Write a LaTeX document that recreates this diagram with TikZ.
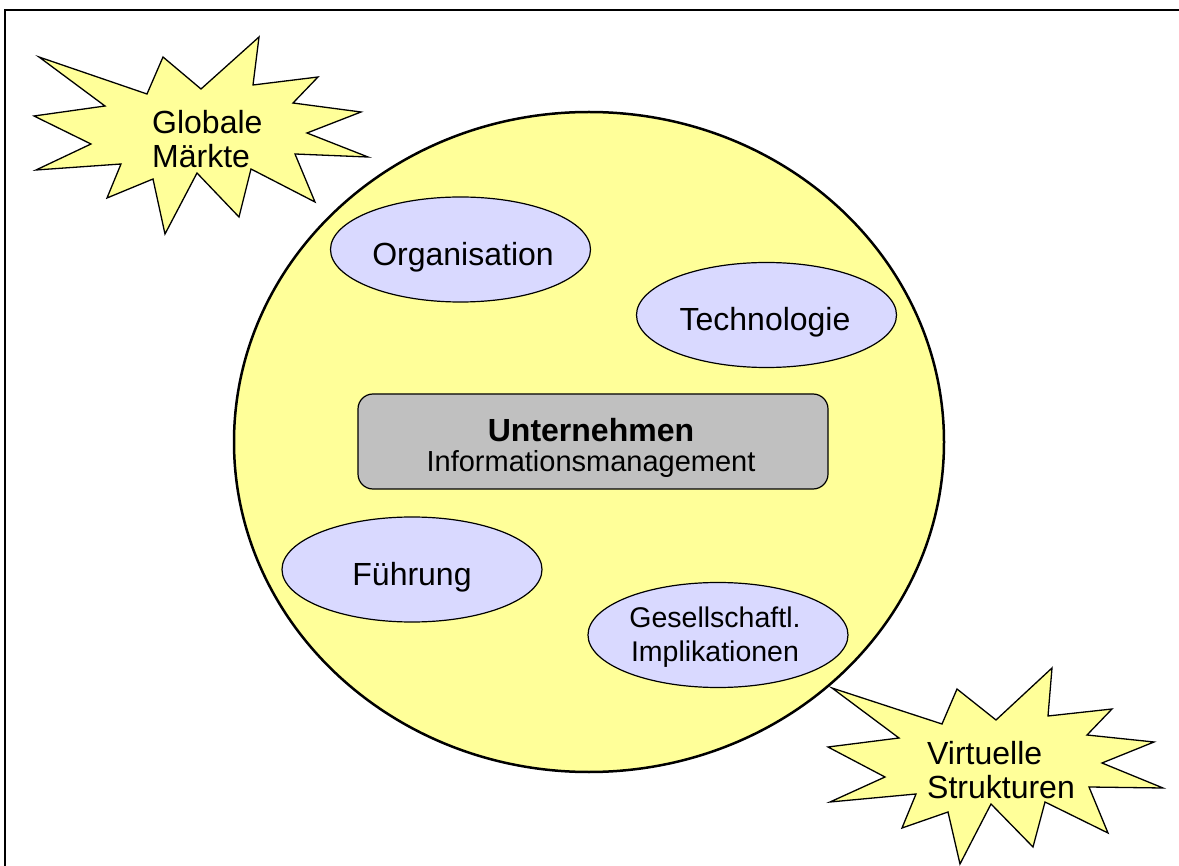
\documentclass[tikz,border=0pt]{standalone}
\usepackage{fontspec}
\setmainfont{Liberation Sans}
\usetikzlibrary{shapes.geometric}
\definecolor{sunyellow}{HTML}{FFFF99}
\definecolor{lavender}{HTML}{D9D9FF}
\definecolor{boxgray}{HTML}{C0C0C0}
\tikzset{
  bigball/.style={ellipse, draw=black, line width=2.5pt, fill=sunyellow, inner sep=0pt, minimum width=710pt, minimum height=660pt},
  bubble/.style={ellipse, draw=black, line width=1.2pt, fill=lavender, inner sep=0pt, minimum width=260pt, minimum height=105pt},
  corebox/.style={rectangle, rounded corners=15pt, draw=black, line width=1.2pt, fill=boxgray, inner sep=0pt, minimum width=470pt, minimum height=95pt},
  starshape/.style={draw=black, line width=1.3pt, fill=sunyellow, line join=miter},
  lbl/.style={inner sep=0pt, font=\fontsize{32}{34}\selectfont},
  smalllbl/.style={inner sep=0pt, font=\fontsize{28.5}{34}\selectfont},
  frameline/.style={draw=black, line width=2.5pt}
}
\begin{document}
\begin{tikzpicture}[x=1pt,y=-1pt]
\useasboundingbox (0,0) rectangle (1179,866);
\fill[white] (0,0) rectangle (1179,866);
% frame
\coordinate (fb) at (5,866);
\coordinate (ftl) at (5,10);
\coordinate (fr) at (1179,10);
\draw[frameline] (fb) -- (ftl) -- (fr);
% big circle
\node[bigball] (ball) at (589,442) {};
% star Globale Maerkte
\draw[starshape] (39,57) -- (147,94) -- (163,57) -- (201,89) -- (259,37) -- (253,85) -- (318,77) -- (293,103) -- (361,112) -- (307,133) -- (368,157) -- (295,154) -- (315,202) -- (251,169) -- (239,217) -- (197,173) -- (165,234) -- (153,179) -- (107,198) -- (121,164) -- (36,170) -- (91,144) -- (34,116) -- (105,106) -- cycle;
\node[lbl, anchor=west, align=left] (global) at (152,139) {Globale\\Märkte};
% star Virtuelle Strukturen
\draw[starshape] (832,688) -- (942,724) -- (957,689) -- (996,720) -- (1052,668) -- (1048,716) -- (1112,709) -- (1087,735) -- (1154,742) -- (1102,763) -- (1163,788) -- (1089,787) -- (1108,833) -- (1045,802) -- (1033,847) -- (991,804) -- (960,864) -- (948,812) -- (902,828) -- (916,794) -- (830,802) -- (885,777) -- (828,747) -- (899,738) -- cycle;
\node[lbl, anchor=west, align=left] (virt) at (927,770) {Virtuelle\\Strukturen};
% bubbles
\node[bubble] (org) at (460.5,249.5) {};
\node[lbl, anchor=base] (orgt) at (463,266) {Organisation};
\node[bubble] (tech) at (766.5,315) {};
\node[lbl, anchor=base] (techt) at (765,331) {Technologie};
\node[bubble] (fuehr) at (412,569.5) {};
\node[lbl, anchor=base] (fuehrt) at (412,585) {Führung};
\node[bubble] (ges) at (718,635) {};
\node[smalllbl, align=center] (gest) at (715,637.5) {Gesellschaftl.\\Implikationen};
% core box
\node[corebox] (core) at (593,441.5) {};
\node[inner sep=0pt, align=center, font=\fontsize{29}{30}\selectfont] (coret) at (591,447.5) {{\fontsize{32}{30}\selectfont\bfseries Unternehmen}\\Informationsmanagement};
\end{tikzpicture}
\end{document}
